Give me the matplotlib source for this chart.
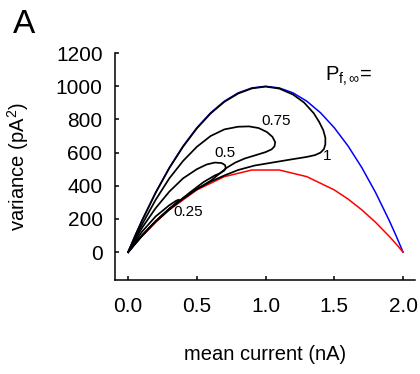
import matplotlib
matplotlib.use("Agg")
import matplotlib.pyplot as plt

plt.rcParams['font.family'] = ['Liberation Sans', 'DejaVu Sans']
plt.rcParams['mathtext.fontset'] = 'custom'
plt.rcParams['mathtext.rm'] = 'Liberation Sans'
plt.rcParams['mathtext.it'] = 'Liberation Sans'
plt.rcParams['mathtext.bf'] = 'Liberation Sans:bold'

# blue: upper bound (all channels, Pf = 1)
blue_x = [0.0, 0.05, 0.1, 0.2, 0.3, 0.4, 0.5, 0.6, 0.7, 0.8, 0.9, 1.0,
          1.1, 1.2, 1.3, 1.4, 1.5, 1.6, 1.7, 1.8, 1.9, 1.95, 2.0]
blue_v = [0, 98, 190, 360, 510, 640, 750, 840, 910, 960, 990, 1000,
          990, 960, 910, 840, 750, 640, 510, 360, 190, 98, 0]

# red: lower bound (coarse sampled)
red_x = [0.0, 0.05, 0.1, 0.2, 0.3, 0.5, 0.7, 0.9, 1.1, 1.3, 1.5, 1.6, 1.7, 1.8, 1.9, 1.95, 2.0]
red_v = [0, 49, 95, 180, 255, 375, 455, 495, 495, 455, 375, 320, 255, 180, 95, 49, 0]

# black trajectories for each P_f,inf
pf1_x = [0.0, 0.05, 0.1, 0.2, 0.3, 0.4, 0.5, 0.6, 0.7, 0.8, 0.9, 1.0, 1.1, 1.2,
         1.28, 1.35, 1.39, 1.42, 1.435, 1.435, 1.425, 1.40, 1.36, 1.30, 1.24,
         1.18, 1.05, 0.92, 0.80, 0.70, 0.6, 0.5, 0.4, 0.3, 0.2, 0.1, 0.0]
pf1_v = [0, 97, 188, 357, 507, 636, 746, 836, 906, 956, 987, 998, 986, 950,
         902, 838, 785, 735, 690, 650, 622, 600, 585, 574, 566,
         558, 540, 522, 495, 462, 425, 380, 325, 262, 186, 100, 0]

pf075_x = [0.0, 0.05, 0.1, 0.2, 0.3, 0.4, 0.5, 0.6, 0.7, 0.8, 0.88, 0.95, 1.01,
           1.05, 1.07, 1.065, 1.045, 1.0, 0.93, 0.85, 0.78, 0.72, 0.6, 0.5,
           0.4, 0.3, 0.2, 0.1, 0.0]
pf075_v = [0, 85, 165, 315, 445, 550, 635, 700, 740, 756, 758, 748, 724,
           695, 663, 638, 620, 603, 585, 565, 540, 510, 430, 380,
           322, 258, 183, 98, 0]

pf05_x = [0.0, 0.05, 0.1, 0.2, 0.3, 0.4, 0.5, 0.57, 0.63, 0.68, 0.705, 0.71,
          0.70, 0.67, 0.63, 0.55, 0.45, 0.35, 0.25, 0.15, 0.05, 0.0]
pf05_v = [0, 75, 145, 265, 365, 445, 500, 528, 540, 537, 525, 508,
          492, 476, 462, 423, 360, 293, 224, 143, 52, 0]

pf025_x = [0.0, 0.05, 0.1, 0.2, 0.3, 0.35, 0.37, 0.36, 0.3, 0.2, 0.1, 0.0]
pf025_v = [0, 64, 122, 215, 283, 310, 316, 303, 262, 186, 99, 0]

pf_labels = ["1", "0.75", "0.5", "0.25"]
label_pos = [(1.42, 580), (0.97, 790), (0.63, 595), (0.33, 240)]

fig = plt.figure(figsize=(4.2, 3.74), dpi=100)
ax = fig.add_axes([0.274, 0.251, 0.714, 0.607])

ax.plot(blue_x, blue_v, color="blue", lw=1.1)
ax.plot(red_x, red_v, color="red", lw=1.1)
for xs, vs in [(pf1_x, pf1_v), (pf075_x, pf075_v), (pf05_x, pf05_v), (pf025_x, pf025_v)]:
    ax.plot(xs, vs, color="black", lw=1.25)

for lab, (lx, ly) in zip(pf_labels, label_pos):
    ax.text(lx, ly, lab, fontsize=11, ha="left", va="center")

ax.text(1.43, 1060, r"P$_{\mathrm{f},\infty}$=", fontsize=14.5, ha="left", va="center")

ax.set_xlim(-0.095, 2.087)
ax.set_ylim(-169, 1200)
ax.set_xticks([0.0, 0.5, 1.0, 1.5, 2.0])
ax.set_xticklabels(["0.0", "0.5", "1.0", "1.5", "2.0"])
ax.set_yticks([0, 200, 400, 600, 800, 1000, 1200])
ax.spines['top'].set_visible(False)
ax.spines['right'].set_visible(False)
ax.spines['left'].set_linewidth(1.1)
ax.spines['bottom'].set_linewidth(1.1)
ax.tick_params(direction='in', length=3, width=1.1, labelsize=15)
ax.tick_params(axis='y', pad=9)
ax.tick_params(axis='x', pad=12)

ax.set_xlabel("mean current (nA)", fontsize=14.5, labelpad=21)
ax.set_ylabel(r"variance (pA$^2$)", fontsize=14.5, labelpad=18)

fig.text(0.03, 0.935, "A", fontsize=24, ha="left", va="center")

fig.savefig("out.png", dpi=100)
